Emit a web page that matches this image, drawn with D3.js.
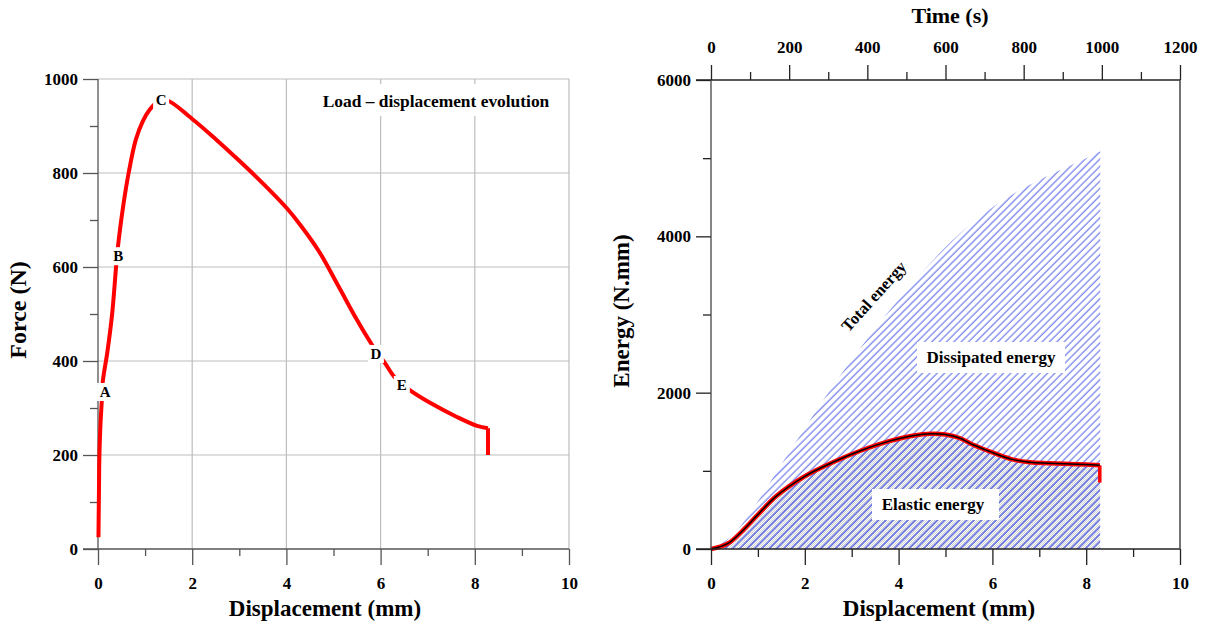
<!DOCTYPE html>
<html>
<head>
<meta charset="utf-8">
<script src="https://cdn.jsdelivr.net/npm/d3@7"></script>
<style>
body { margin: 0; background: #fff; }
svg text { font-family: "Liberation Serif", "Times New Roman", serif; font-weight: bold; fill: #000; }
</style>
</head>
<body>
<script>
// load - displacement curve (left)
var dispF = [0.01, 0.02, 0.03, 0.05, 0.08, 0.1, 0.2, 0.3, 0.42, 0.55, 0.65, 0.8, 0.95, 1.1, 1.25, 1.45, 2.0, 2.5, 3.0, 3.5, 4.0, 4.3, 4.7, 5.1, 5.5, 5.82, 6.09, 6.31, 6.62, 7.05, 7.62, 8.05, 8.28];
var force = [25, 120, 200, 260, 315, 355, 420, 500, 640, 740, 800, 870, 910, 935, 950, 955, 915, 872, 826, 778, 726, 689, 632, 560, 487, 434, 396, 364, 338, 311, 281, 262, 257];
var dropF = [257, 200]; // final vertical drop at 8.28 mm
var ptNames = ["A", "B", "C", "D", "E"];
var ptDisp = [0.15, 0.43, 1.34, 5.9, 6.45];
var ptForce = [334, 623, 955, 415, 349];

// energy curves (right)
var dispT = [0, 0.5, 1, 1.5, 2, 2.5, 3, 3.5, 4, 4.5, 5, 5.5, 6, 6.5, 7, 7.5, 8, 8.3];
var totalE = [0, 200, 610, 1080, 1545, 2000, 2420, 2820, 3195, 3540, 3860, 4140, 4370, 4560, 4720, 4860, 5000, 5090];
var dispE = [0, 0.2, 0.4, 0.7, 1.0, 1.4, 2.0, 2.6, 3.2, 3.8, 4.3, 4.7, 5.0, 5.3, 5.6, 6.0, 6.4, 6.8, 7.2, 7.8, 8.29];
var elasticE = [0, 30, 85, 250, 440, 680, 930, 1110, 1260, 1380, 1450, 1475, 1465, 1420, 1330, 1235, 1150, 1110, 1098, 1085, 1070];
var dropE = [1070, 850]; // final vertical drop at 8.29 mm

var w = 1213, h = 624;
var svg = d3.select("body").append("svg").attr("width", w).attr("height", h);

var defs = svg.append("defs");
var hp = defs.append("pattern").attr("id", "hatch").attr("patternUnits", "userSpaceOnUse")
  .attr("width", 5.2).attr("height", 5.2).attr("patternTransform", "rotate(45)");
hp.append("line").attr("x1", 1).attr("y1", 0).attr("x2", 1).attr("y2", 5.2)
  .attr("stroke", "#5262e8").attr("stroke-width", 1);
var cp = defs.append("pattern").attr("id", "checker").attr("patternUnits", "userSpaceOnUse")
  .attr("width", 2).attr("height", 2);
cp.append("rect").attr("x", 0).attr("y", 0).attr("width", 1).attr("height", 1).attr("fill", "#9a9a9a");
cp.append("rect").attr("x", 1).attr("y", 1).attr("width", 1).attr("height", 1).attr("fill", "#9a9a9a");

function styleAxis(g, col) {
  g.select(".domain").remove();
  g.selectAll("line").attr("stroke", col).attr("stroke-width", 1.3);
  g.selectAll("text").style("font-size", "17px");
}

// ---------- left chart ----------
var x1 = d3.scaleLinear().domain([0, 10]).range([98, 569]);
var y1 = d3.scaleLinear().domain([0, 1000]).range([549, 79]);

var grid = svg.append("g");
grid.selectAll(".vg").data([2, 4, 6, 8, 10]).enter().append("line")
  .attr("x1", function(d) { return x1(d); }).attr("x2", function(d) { return x1(d); })
  .attr("y1", y1(0)).attr("y2", y1(1000)).attr("stroke", "#bdbdbd").attr("stroke-width", 1.2);
grid.selectAll(".hg").data([200, 400, 600, 800, 1000]).enter().append("line")
  .attr("x1", x1(0)).attr("x2", x1(10))
  .attr("y1", function(d) { return y1(d); }).attr("y2", function(d) { return y1(d); })
  .attr("stroke", "#bdbdbd").attr("stroke-width", 1.2);

var lx = svg.append("g").attr("transform", "translate(0,549)")
  .call(d3.axisBottom(x1).tickValues([0, 2, 4, 6, 8, 10]).tickSize(16).tickPadding(12).tickFormat(d3.format("d")));
styleAxis(lx, "#555");
var lxm = svg.append("g").attr("transform", "translate(0,549)")
  .call(d3.axisBottom(x1).tickValues([1, 3, 5, 7, 9]).tickSize(7).tickFormat(""));
styleAxis(lxm, "#555");
var ly = svg.append("g").attr("transform", "translate(98,0)")
  .call(d3.axisLeft(y1).tickValues([0, 200, 400, 600, 800, 1000]).tickSize(15).tickPadding(5).tickFormat(d3.format("d")));
styleAxis(ly, "#555");
var lym = svg.append("g").attr("transform", "translate(98,0)")
  .call(d3.axisLeft(y1).tickValues([100, 300, 500, 700, 900]).tickSize(8).tickFormat(""));
styleAxis(lym, "#555");
svg.append("line").attr("x1", 83).attr("x2", 569).attr("y1", 549).attr("y2", 549).attr("stroke", "#555").attr("stroke-width", 1.3);
svg.append("line").attr("x1", 98).attr("x2", 98).attr("y1", 79).attr("y2", 549).attr("stroke", "#555").attr("stroke-width", 1.3);

var lineF = d3.line().x(function(d) { return x1(d[0]); }).y(function(d) { return y1(d[1]); })
  .curve(d3.curveCatmullRom.alpha(0.5));
var lineLin1 = d3.line().x(function(d) { return x1(d[0]); }).y(function(d) { return y1(d[1]); });
svg.append("path").datum(d3.zip(dispF, force)).attr("d", lineF)
  .attr("fill", "none").attr("stroke", "#ff0000").attr("stroke-width", 4).attr("stroke-linejoin", "round");
var lastF = dispF[dispF.length - 1];
svg.append("path").datum([[lastF, dropF[0]], [lastF, dropF[1]]]).attr("d", lineLin1)
  .attr("fill", "none").attr("stroke", "#ff0000").attr("stroke-width", 4);

ptNames.forEach(function(n, i) {
  var px = x1(ptDisp[i]), py = y1(ptForce[i]);
  svg.append("rect").attr("x", px - 8).attr("y", py - 9).attr("width", 16).attr("height", 18).attr("fill", "#fff");
  svg.append("text").attr("x", px).attr("y", py + 5).attr("text-anchor", "middle")
    .style("font-size", "15px").text(n);
});

svg.append("rect").attr("x", 316).attr("y", 84).attr("width", 242).attr("height", 32).attr("fill", "#fff");
svg.append("text").attr("x", 436).attr("y", 107).attr("text-anchor", "middle").style("font-size", "17.4px")
  .text("Load \u2013 displacement evolution");

svg.append("text").attr("x", 325).attr("y", 616).attr("text-anchor", "middle").style("font-size", "23px")
  .text("Displacement (mm)");
svg.append("text").attr("transform", "translate(26,310) rotate(-90)").attr("text-anchor", "middle")
  .style("font-size", "24px").text("Force (N)");

// ---------- right chart ----------
var x2 = d3.scaleLinear().domain([0, 10]).range([711, 1180]);
var t2 = d3.scaleLinear().domain([0, 1200]).range([711, 1180]);
var y2 = d3.scaleLinear().domain([0, 6000]).range([549, 80]);

var areaT = d3.area().x(function(d) { return x2(d[0]); }).y0(y2(0)).y1(function(d) { return y2(d[1]); })
  .curve(d3.curveMonotoneX);
svg.append("path").datum(d3.zip(dispT, totalE)).attr("d", areaT).attr("fill", "url(#hatch)");

var elastic = d3.zip(dispE, elasticE);
var areaE = d3.area().x(function(d) { return x2(d[0]); }).y0(y2(0)).y1(function(d) { return y2(d[1]); })
  .curve(d3.curveCatmullRom.alpha(0.5));
svg.append("path").datum(elastic).attr("d", areaE).attr("fill", "url(#checker)").attr("opacity", 0.45);
svg.append("path").datum(elastic).attr("d", areaE).attr("fill", "url(#hatch)");

var lineE = d3.line().x(function(d) { return x2(d[0]); }).y(function(d) { return y2(d[1]); })
  .curve(d3.curveCatmullRom.alpha(0.5));
var lineLin2 = d3.line().x(function(d) { return x2(d[0]); }).y(function(d) { return y2(d[1]); });
var lastE = dispE[dispE.length - 1];
svg.append("path").datum(elastic).attr("d", lineE).attr("fill", "none").attr("stroke", "#ff0000").attr("stroke-width", 4.5);
svg.append("path").datum([[lastE, dropE[0]], [lastE, dropE[1]]]).attr("d", lineLin2)
  .attr("fill", "none").attr("stroke", "#ff0000").attr("stroke-width", 3.5);
svg.append("path").datum(elastic).attr("d", lineE).attr("fill", "none").attr("stroke", "#000").attr("stroke-width", 1.5);

var rx = svg.append("g").attr("transform", "translate(0,549)")
  .call(d3.axisBottom(x2).tickValues([0, 2, 4, 6, 8, 10]).tickSize(16).tickPadding(12).tickFormat(d3.format("d")));
styleAxis(rx, "#222");
var rxm = svg.append("g").attr("transform", "translate(0,549)")
  .call(d3.axisBottom(x2).tickValues([1, 3, 5, 7, 9]).tickSize(8).tickFormat(""));
styleAxis(rxm, "#222");
var rt = svg.append("g").attr("transform", "translate(0,80)")
  .call(d3.axisTop(t2).tickValues([0, 200, 400, 600, 800, 1000, 1200]).tickSize(15).tickPadding(12).tickFormat(d3.format("d")));
styleAxis(rt, "#222");
var rtm = svg.append("g").attr("transform", "translate(0,80)")
  .call(d3.axisTop(t2).tickValues([100, 300, 500, 700, 900, 1100]).tickSize(8).tickFormat(""));
styleAxis(rtm, "#222");
var ry = svg.append("g").attr("transform", "translate(711,0)")
  .call(d3.axisLeft(y2).tickValues([0, 2000, 4000, 6000]).tickSize(15).tickPadding(5).tickFormat(d3.format("d")));
styleAxis(ry, "#222");
var rym = svg.append("g").attr("transform", "translate(711,0)")
  .call(d3.axisLeft(y2).tickValues([1000, 3000, 5000]).tickSize(8).tickFormat(""));
styleAxis(rym, "#222");
svg.append("line").attr("x1", 696).attr("x2", 1180).attr("y1", 549).attr("y2", 549).attr("stroke", "#222").attr("stroke-width", 1.3);
svg.append("line").attr("x1", 696).attr("x2", 1180).attr("y1", 80).attr("y2", 80).attr("stroke", "#222").attr("stroke-width", 1.3);
svg.append("line").attr("x1", 711).attr("x2", 711).attr("y1", 80).attr("y2", 549).attr("stroke", "#444").attr("stroke-width", 1.3);
svg.append("line").attr("x1", 1180).attr("x2", 1180).attr("y1", 80).attr("y2", 549).attr("stroke", "#444").attr("stroke-width", 1.5);

svg.append("text").attr("transform", "translate(878,300) rotate(-48)").attr("text-anchor", "middle")
  .style("font-size", "16.5px").text("Total energy");
svg.append("rect").attr("x", 917).attr("y", 342).attr("width", 148).attr("height", 31).attr("fill", "#fff");
svg.append("text").attr("x", 991).attr("y", 363).attr("text-anchor", "middle").style("font-size", "17px")
  .text("Dissipated energy");
svg.append("rect").attr("x", 872).attr("y", 489).attr("width", 127).attr("height", 31).attr("fill", "#fff");
svg.append("text").attr("x", 933).attr("y", 510).attr("text-anchor", "middle").style("font-size", "17px")
  .text("Elastic energy");

svg.append("text").attr("x", 939).attr("y", 616).attr("text-anchor", "middle").style("font-size", "23px")
  .text("Displacement (mm)");
svg.append("text").attr("x", 950).attr("y", 23).attr("text-anchor", "middle").style("font-size", "22px")
  .text("Time (s)");
svg.append("text").attr("transform", "translate(629,311) rotate(-90)").attr("text-anchor", "middle")
  .style("font-size", "23px").text("Energy (N.mm)");
</script>
</body>
</html>
